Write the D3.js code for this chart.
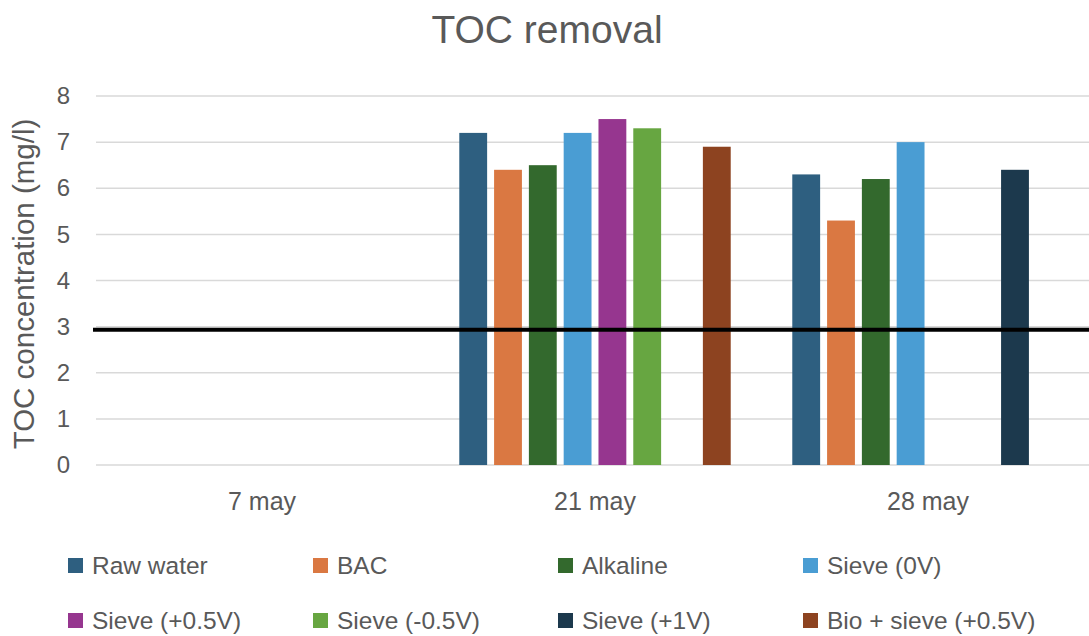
<!DOCTYPE html>
<html>
<head>
<meta charset="utf-8">
<script src="https://cdn.jsdelivr.net/npm/d3@7/dist/d3.min.js"></script>
<style>
  html, body { margin: 0; padding: 0; background: #fff; }
  svg { display: block; font-family: "Liberation Sans", Arial, sans-serif; }
</style>
</head>
<body>
<svg id="chart" width="1089" height="636"></svg>
<script>
// Sampling dates
const categories = ["7 may", "21 may", "28 may"];

// Treatment series (mg/l TOC); null = not measured
const seriesNames = ["Raw water", "BAC", "Alkaline", "Sieve (0V)",
                     "Sieve (+0.5V)", "Sieve (-0.5V)", "Sieve (+1V)", "Bio + sieve (+0.5V)"];
const rawWater    = [null, 7.2, 6.3];
const bac         = [null, 6.4, 5.3];
const alkaline    = [null, 6.5, 6.2];
const sieve0      = [null, 7.2, 7.0];
const sievePos05  = [null, 7.5, null];
const sieveNeg05  = [null, 7.3, null];
const sievePos1   = [null, null, 6.4];
const bioSieve05  = [null, 6.9, null];
const seriesValues = [rawWater, bac, alkaline, sieve0, sievePos05, sieveNeg05, sievePos1, bioSieve05];

const seriesColors = ["#2e5f80", "#da7842", "#33692d", "#4a9dd3",
                      "#96368f", "#67a641", "#1c394d", "#8d4320"];

const yTicks = [0, 1, 2, 3, 4, 5, 6, 7, 8];
const targetLevel = 2.93;   // reference limit line

const W = 1089, H = 636;
const svg = d3.select("#chart");
const textColor = "#595959";

const y = d3.scaleLinear().domain([0, 8]).range([465, 96]);
const x0 = d3.scaleBand().domain(categories).range([95.5, 1094.5])
  .paddingInner(0.164).paddingOuter(0.082);
const x1 = d3.scaleBand().domain(seriesNames).range([0, x0.bandwidth()])
  .paddingInner(0.2).paddingOuter(0.1);

// Title
svg.append("text")
  .attr("x", 547).attr("y", 43)
  .attr("text-anchor", "middle")
  .attr("font-size", 39)
  .attr("fill", textColor)
  .text("TOC removal");

// Gridlines
svg.append("g")
  .selectAll("line")
  .data(yTicks)
  .join("line")
  .attr("x1", 96).attr("x2", W)
  .attr("y1", d => y(d)).attr("y2", d => y(d))
  .attr("stroke", "#d9d9d9")
  .attr("stroke-width", 1.5);

// Y axis tick labels
const yAxis = d3.axisLeft(y).tickValues(yTicks).tickSize(0).tickPadding(0).tickFormat(d3.format("d"));
const yG = svg.append("g").attr("transform", "translate(70,0)").call(yAxis);
yG.select(".domain").remove();
yG.selectAll("text")
  .attr("font-size", 24)
  .attr("font-family", "Liberation Sans, Arial, sans-serif")
  .attr("fill", textColor);

// Y axis title
svg.append("text")
  .attr("transform", "translate(34,284) rotate(-90)")
  .attr("text-anchor", "middle")
  .attr("font-size", 29.5)
  .attr("fill", textColor)
  .text("TOC concentration (mg/l)");

// Bars
const barData = [];
categories.forEach((c, ci) => {
  seriesNames.forEach((s, si) => {
    const v = seriesValues[si][ci];
    if (v != null) barData.push({ cat: c, series: s, value: v, color: seriesColors[si] });
  });
});
svg.append("g")
  .selectAll("rect")
  .data(barData)
  .join("rect")
  .attr("x", d => x0(d.cat) + x1(d.series))
  .attr("y", d => y(d.value))
  .attr("width", x1.bandwidth())
  .attr("height", d => y(0) - y(d.value))
  .attr("fill", d => d.color);

// Category labels
const xAxis = d3.axisBottom(x0).tickSize(0).tickPadding(0);
const xG = svg.append("g").attr("transform", "translate(0,492)").call(xAxis);
xG.select(".domain").remove();
xG.selectAll("text")
  .attr("font-size", 25)
  .attr("font-family", "Liberation Sans, Arial, sans-serif")
  .attr("fill", textColor);

// Limit line
svg.append("line")
  .attr("x1", 93).attr("x2", W)
  .attr("y1", y(targetLevel)).attr("y2", y(targetLevel))
  .attr("stroke", "#000")
  .attr("stroke-width", 4);

// Legend
const legendCols = [68, 313, 558, 803];
const legendRows = [566, 621];
const legend = svg.append("g")
  .selectAll("g")
  .data(seriesNames)
  .join("g")
  .attr("transform", (d, i) => `translate(${legendCols[i % 4]},${legendRows[Math.floor(i / 4)]})`);
legend.append("rect")
  .attr("x", 0).attr("y", -8)
  .attr("width", 15).attr("height", 15)
  .attr("fill", (d, i) => seriesColors[i]);
legend.append("text")
  .attr("x", 24).attr("y", 8)
  .attr("font-size", 24.5)
  .attr("fill", textColor)
  .text(d => d);
</script>
</body>
</html>
